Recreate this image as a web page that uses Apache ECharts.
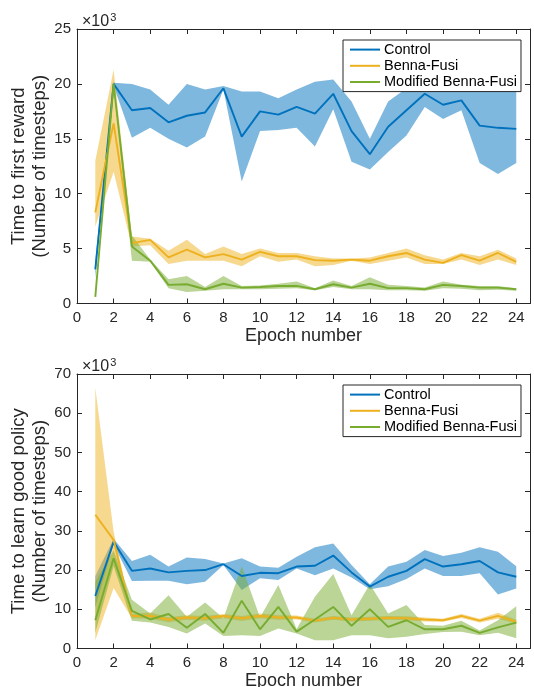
<!DOCTYPE html>
<html>
<head>
<meta charset="utf-8">
<script src="https://cdn.jsdelivr.net/npm/echarts@6/dist/echarts.min.js"></script>
<style>html,body{margin:0;padding:0;background:#fff}#c{width:534px;height:687px}</style>
</head>
<body>
<div id="c"></div>
<script>
const epochs = [1,2,3,4,5,6,7,8,9,10,11,12,13,14,15,16,17,18,19,20,21,22,23,24];
const seriesNames = ['Control', 'Benna-Fusi', 'Modified Benna-Fusi'];
const xTicks = [0,2,4,6,8,10,12,14,16,18,20,22,24];

// Top panel: time to first reward (x10^3 timesteps)
const ctrl1Mean = [3.1,20.0,17.6,17.8,16.5,17.1,17.4,19.6,15.2,17.5,17.2,17.9,17.3,19.1,15.7,13.6,16.1,17.6,19.1,18.1,18.5,16.2,16.0,15.9];
const ctrl1Lo   = [2.3,19.8,15.1,16.0,15.0,14.2,15.2,19.5,11.1,15.7,15.8,16.0,14.3,17.7,12.9,12.2,13.8,15.3,17.9,16.8,17.6,12.8,11.8,12.8];
const ctrl1Hi   = [3.9,20.1,20.0,19.5,18.1,20.0,19.5,19.8,19.3,19.3,18.7,19.5,20.2,20.4,18.4,15.0,18.4,19.6,20.0,20.0,20.0,20.0,19.8,19.6];
const bf1Mean = [8.3,16.4,5.5,5.8,4.2,4.9,4.2,4.5,4.0,4.7,4.3,4.3,3.95,3.9,4.0,3.9,4.3,4.6,4.0,3.7,4.4,3.9,4.6,3.8];
const bf1Lo   = [7.0,12.0,5.2,5.3,3.6,3.9,3.9,3.9,3.4,4.3,3.8,4.0,3.4,3.5,3.9,3.6,3.9,4.2,3.6,3.6,4.0,3.5,4.0,3.5];
const bf1Hi   = [13.0,21.3,6.1,5.9,4.8,5.8,4.5,5.2,4.5,5.0,4.6,4.6,4.3,4.1,4.1,4.2,4.6,5.0,4.4,4.0,4.6,4.3,4.9,4.1];
const mbf1Mean = [0.6,20.0,5.2,3.9,1.7,1.75,1.3,1.8,1.45,1.5,1.6,1.6,1.3,1.75,1.45,1.8,1.4,1.4,1.3,1.7,1.6,1.45,1.45,1.3];
const mbf1Lo   = [0.5,19.8,3.9,3.8,1.4,1.05,1.15,1.3,1.3,1.3,1.35,1.4,1.2,1.5,1.3,1.3,1.2,1.2,1.15,1.4,1.35,1.2,1.25,1.15];
const mbf1Hi   = [0.7,20.3,6.2,4.0,2.2,2.5,1.5,2.5,1.6,1.65,1.8,2.0,1.4,2.1,1.6,2.4,1.7,1.6,1.45,2.0,1.7,1.6,1.6,1.4];

// Bottom panel: time to learn good policy (x10^3 timesteps)
const ctrl2Mean = [13.4,27.2,19.8,20.4,19.4,19.8,20.0,21.5,18.5,19.3,19.2,20.9,21.1,23.7,19.4,15.8,18.3,19.8,22.8,20.9,21.5,22.3,19.4,18.3];
const ctrl2Lo   = [10.5,26.5,17.2,17.3,17.3,16.4,17.0,21.3,14.9,17.9,17.5,20.4,18.7,20.4,18.1,15.1,15.9,17.7,20.4,18.5,18.5,19.2,13.8,15.3];
const ctrl2Hi   = [18.5,28.0,22.3,23.9,20.9,23.2,22.8,21.7,23.0,20.9,20.6,23.4,25.8,26.8,21.3,16.4,20.9,22.1,25.1,23.6,24.4,25.8,24.7,21.0];
const bf2Mean = [34.1,27.7,8.3,8.3,7.4,7.9,7.7,8.3,7.7,8.3,7.9,7.9,7.1,7.8,7.4,7.6,7.8,7.7,7.4,7.2,8.3,7.1,8.3,6.8];
const bf2Lo   = [2.1,15.4,7.7,7.6,6.7,7.3,7.1,7.7,7.0,7.7,7.3,7.4,6.6,7.3,6.9,7.1,7.3,7.2,6.9,6.8,7.8,6.6,7.6,6.3];
const bf2Hi   = [66.4,29.8,8.8,9.2,8.0,8.5,8.3,8.8,8.3,8.9,8.5,8.4,7.6,8.3,7.9,8.1,8.3,8.2,7.9,7.6,8.8,7.6,9.1,7.3];
const mbf2Mean = [7.2,23.0,9.6,7.4,8.8,5.3,8.8,4.0,12.2,4.9,10.6,4.3,7.4,10.6,5.8,10.0,5.5,7.2,4.9,4.9,5.8,4.0,5.4,6.6];
const mbf2Lo   = [4.0,21.0,7.1,6.6,5.5,3.8,6.4,3.2,3.4,3.2,5.1,3.8,2.1,2.1,3.4,3.4,2.6,3.0,3.7,4.2,4.3,3.4,4.0,2.6];
const mbf2Hi   = [17.0,25.0,12.4,8.9,13.6,8.1,11.7,7.7,21.0,7.9,16.2,5.0,13.2,19.0,8.5,16.4,8.9,11.1,6.0,5.8,7.1,4.6,7.2,10.8];

const colors = ['#0072BD', '#EDB120', '#77AC30'];
const axisColor = '#262626';
const FONT = '"Liberation Sans", Arial, Helvetica, sans-serif';

function pairs(ys) { return epochs.map((e, i) => [e, ys[i]]); }

function bandAndLine(panel, k, mean, lo, hi) {
  const bandData = epochs.map((e, i) => [e, lo[i], hi[i]]);
  return [
    { type: 'custom', name: '_band' + panel + '_' + k, xAxisIndex: panel * 2, yAxisIndex: panel * 2,
      data: bandData, silent: true, z: 2, clip: true,
      encode: { x: 0, y: [1, 2] },
      renderItem: function (params, api) {
        if (params.dataIndex !== 0) return null;
        const upper = bandData.map(d => api.coord([d[0], d[2]]));
        const lower = bandData.map(d => api.coord([d[0], d[1]])).reverse();
        return { type: 'polygon', shape: { points: upper.concat(lower) },
          style: { fill: colors[k], opacity: 0.5 } };
      } },
    { type: 'line', name: seriesNames[k], xAxisIndex: panel * 2, yAxisIndex: panel * 2,
      data: pairs(mean), symbol: 'none', color: colors[k],
      lineStyle: { color: colors[k], width: 1.9 }, z: 3 }
  ];
}

const gridTop = [29, 374];
const yMax = [25, 70];
const yInt = [5, 10];
const yNames = ['Time to first reward\n(Number of timesteps)', 'Time to learn good policy\n(Number of timesteps)'];

const grids = [], xAxes = [], yAxes = [], legends = [], titles = [];
[0, 1].forEach(p => {
  grids.push({ left: 77, top: gridTop[p], width: 453, height: 274.5,
    containLabel: false, outerBoundsMode: 'none' });
  const xBase = { type: 'value', gridIndex: p, min: 0, max: 24.75, interval: 2,
    axisLine: { show: true, onZero: false, lineStyle: { color: axisColor, width: 1 } },
    axisTick: { show: true, inside: true, length: 5, lineStyle: { color: axisColor } },
    splitLine: { show: false } };
  xAxes.push(Object.assign({}, xBase, { position: 'bottom',
    name: 'Epoch number', nameLocation: 'middle', nameGap: 24, nameMoveOverlap: false,
    nameTextStyle: { fontSize: 18, color: axisColor, fontFamily: FONT },
    axisLabel: { show: true, margin: 7, fontSize: 15, color: axisColor, fontFamily: FONT,
      showMaxLabel: false,
      formatter: v => (xTicks.indexOf(v) >= 0 ? String(v) : '') } }));
  xAxes.push(Object.assign({}, xBase, { position: 'top', axisLabel: { show: false } }));
  const yBase = { type: 'value', gridIndex: p, min: 0, max: yMax[p], interval: yInt[p],
    axisLine: { show: true, onZero: false, lineStyle: { color: axisColor, width: 1 } },
    axisTick: { show: true, inside: true, length: 5, lineStyle: { color: axisColor } },
    splitLine: { show: false } };
  yAxes.push(Object.assign({}, yBase, { position: 'left',
    name: yNames[p], nameLocation: 'middle', nameGap: 27, nameRotate: 90, nameMoveOverlap: false,
    nameTextStyle: { fontSize: 18.5, lineHeight: 21, color: axisColor, fontFamily: FONT },
    axisLabel: { show: true, margin: 6, fontSize: 15, color: axisColor, fontFamily: FONT } }));
  yAxes.push(Object.assign({}, yBase, { position: 'right', axisLabel: { show: false } }));
  legends.push({ data: seriesNames, orient: 'vertical', left: 343, top: gridTop[p] + 11,
    icon: 'rect', backgroundColor: '#fff', borderColor: axisColor, borderWidth: 1, borderRadius: 0,
    padding: [2, 4, 2, 7], itemWidth: 30, itemHeight: 2, itemGap: 1,
    textStyle: { fontSize: 14.5, lineHeight: 15.2, color: '#000', fontFamily: FONT, padding: [0, 0, 0, -1] } });
  titles.push({ text: '×10{s|3}', left: 77, top: gridTop[p] - 22,
    textStyle: { fontSize: 16, fontWeight: 'normal', color: axisColor, fontFamily: FONT,
      rich: { s: { fontSize: 11, color: axisColor, fontFamily: FONT, padding: [0, 0, 9, 1] } } } });
});

const series = [].concat(
  bandAndLine(0, 0, ctrl1Mean, ctrl1Lo, ctrl1Hi),
  bandAndLine(0, 1, bf1Mean, bf1Lo, bf1Hi),
  bandAndLine(0, 2, mbf1Mean, mbf1Lo, mbf1Hi),
  bandAndLine(1, 0, ctrl2Mean, ctrl2Lo, ctrl2Hi),
  bandAndLine(1, 1, bf2Mean, bf2Lo, bf2Hi),
  bandAndLine(1, 2, mbf2Mean, mbf2Lo, mbf2Hi)
);

const chart = echarts.init(document.getElementById('c'), null, { renderer: 'canvas' });
chart.setOption({
  animation: false,
  backgroundColor: '#fff',
  title: titles,
  grid: grids,
  xAxis: xAxes,
  yAxis: yAxes,
  legend: legends,
  series: series
});
</script>
</body>
</html>
